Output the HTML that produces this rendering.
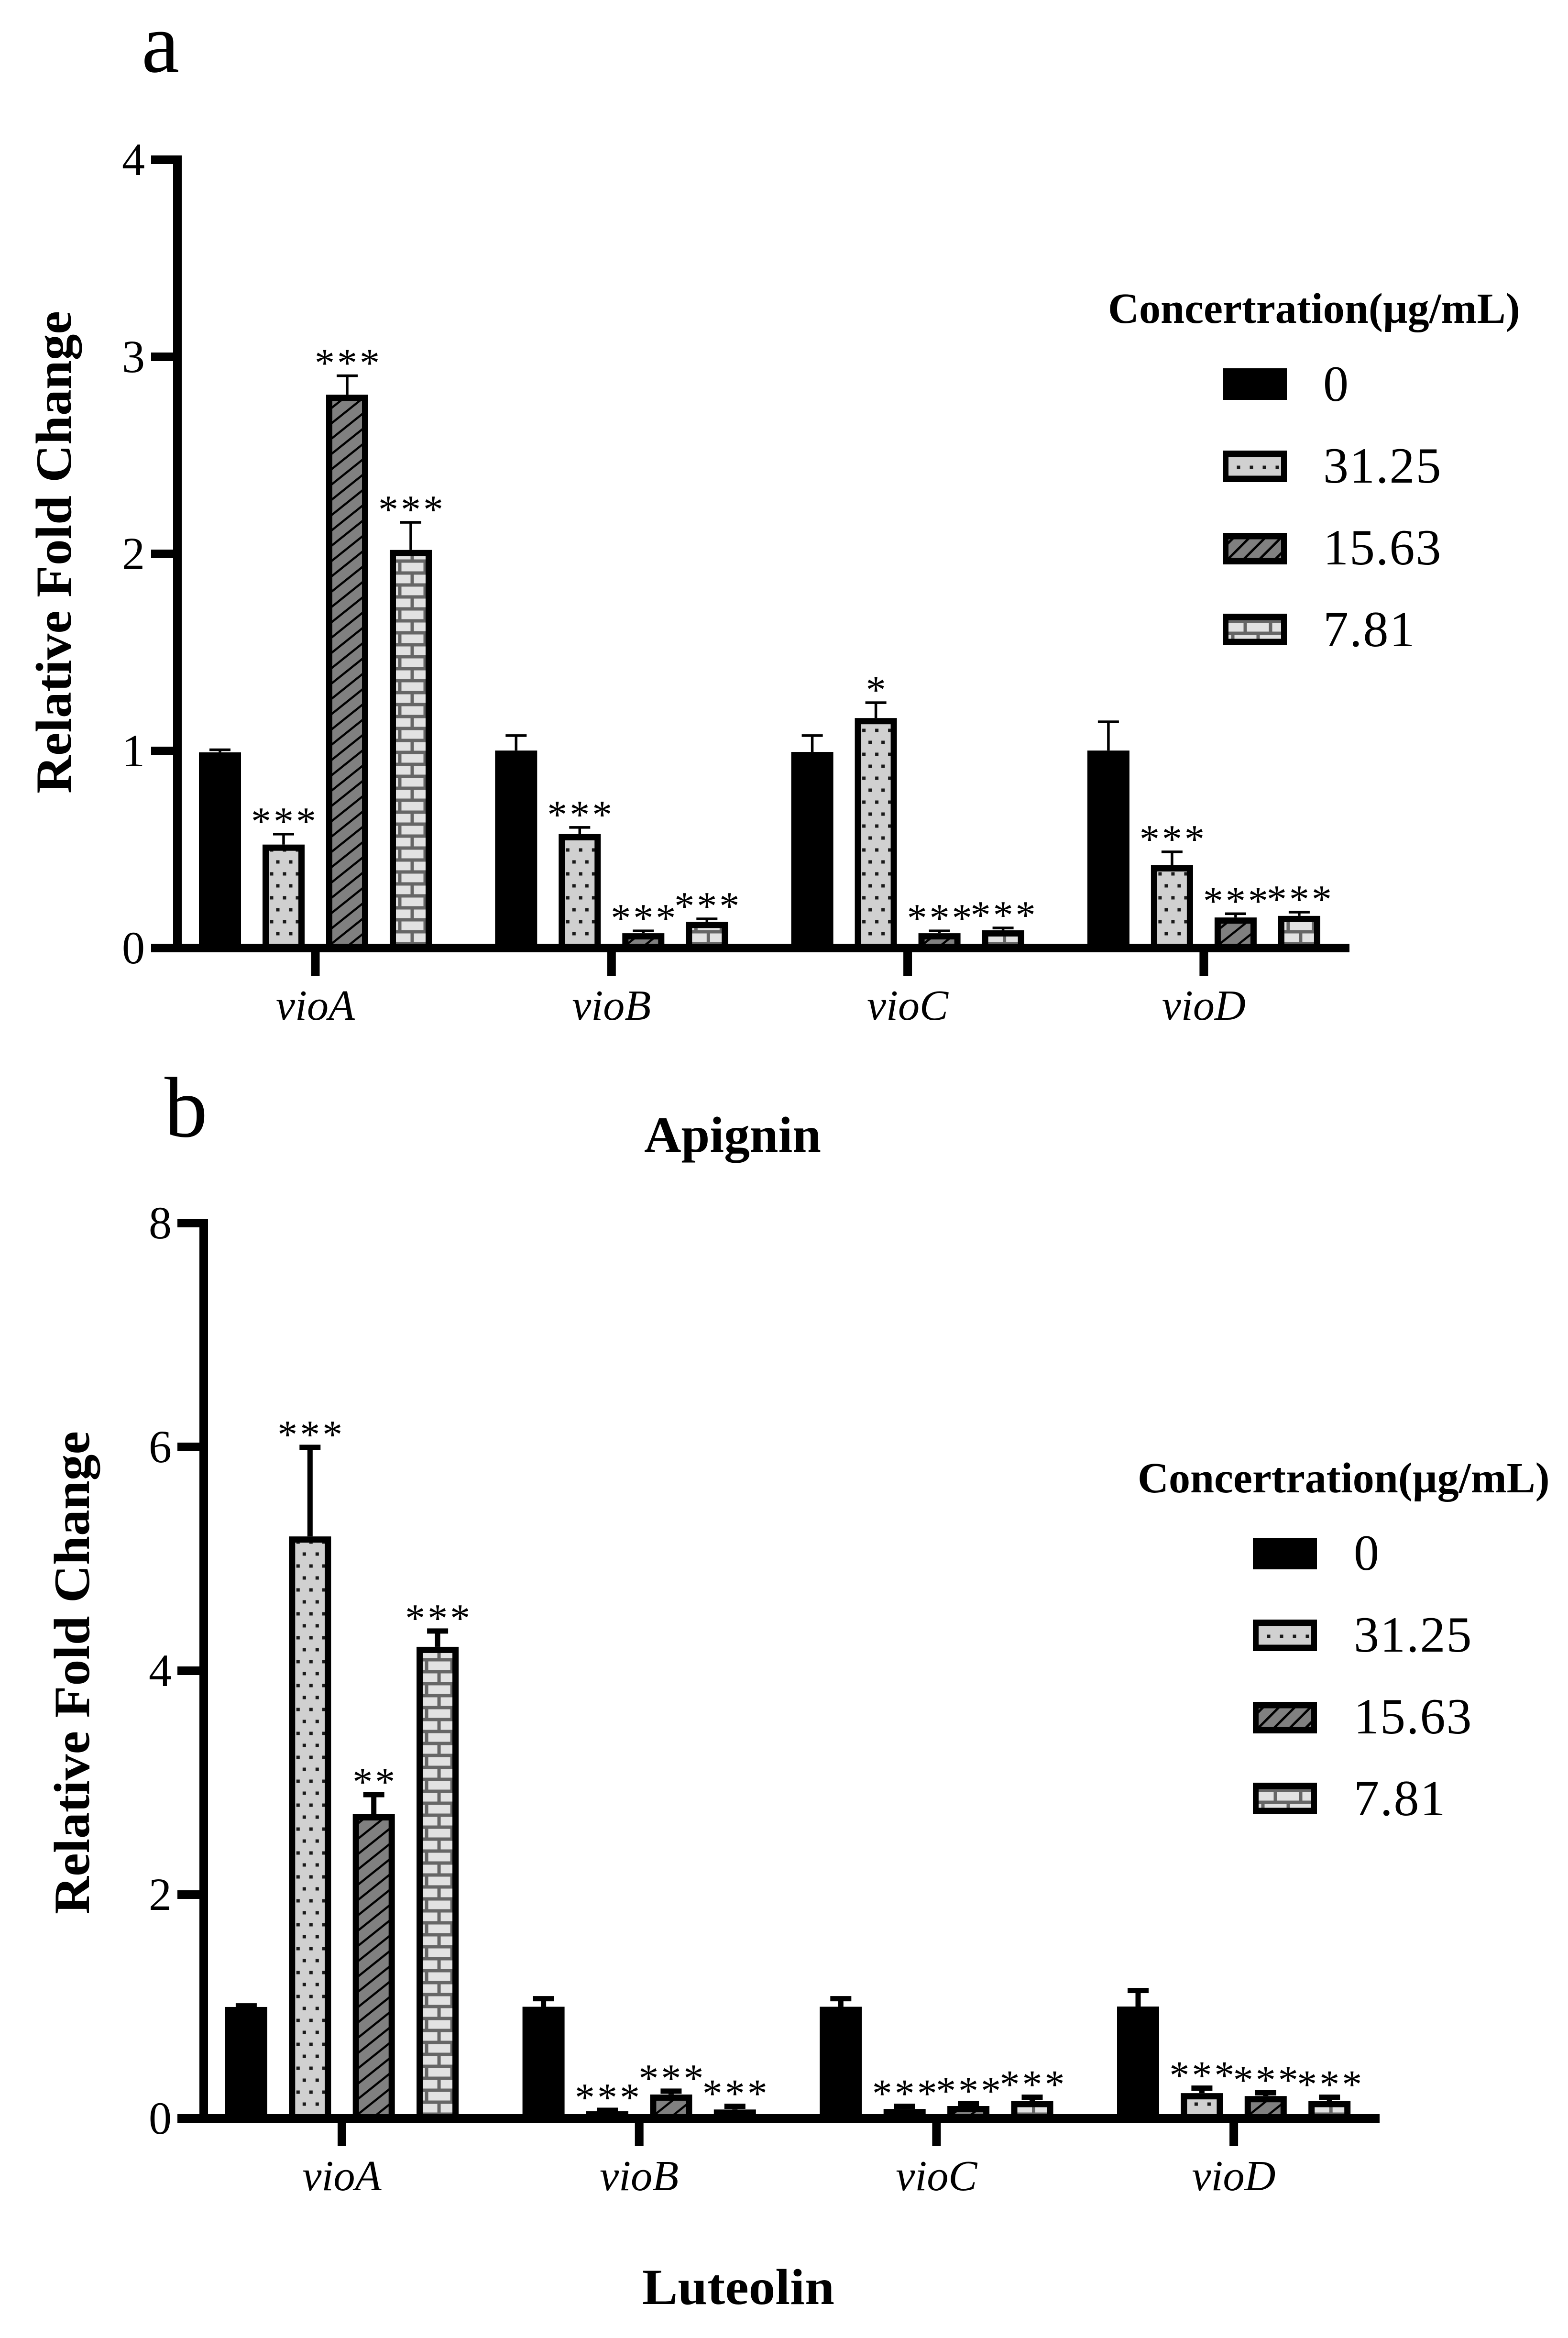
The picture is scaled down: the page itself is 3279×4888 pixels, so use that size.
<!DOCTYPE html>
<html lang="en">
<head>
<meta charset="utf-8">
<title>Relative fold change of vio genes: Apignin and Luteolin</title>
<style>
html,body{margin:0;padding:0;background:#fff;}
svg{display:block;}
text{font-family:"Liberation Serif","Times New Roman",serif;fill:#000;}
.bold{font-weight:700;}
.ital{font-style:italic;}
</style>
</head>
<body>
<svg id="figure" xmlns="http://www.w3.org/2000/svg" width="3279" height="4888" viewBox="0 0 3279 4888">
  <defs>
    <pattern id="pat-dots" patternUnits="userSpaceOnUse" width="27" height="50">
      <rect width="27" height="50" fill="#d0d0d0"/>
      <rect x="1.5" y="16.5" width="7" height="7" fill="#1a1a1a"/>
      <rect x="15.5" y="41.5" width="7" height="7" fill="#1a1a1a"/>
    </pattern>
    <pattern id="pat-hatch" patternUnits="userSpaceOnUse" width="40" height="32">
      <rect width="40" height="32" fill="#808080"/>
      <g stroke="#000" stroke-width="4.5">
        <line x1="-10" y1="40" x2="50" y2="-8"/>
        <line x1="-50" y1="40" x2="10" y2="-8"/>
        <line x1="30" y1="40" x2="90" y2="-8"/>
      </g>
    </pattern>
    <pattern id="pat-hatch-legend" patternUnits="userSpaceOnUse" width="33" height="33">
      <rect width="33" height="33" fill="#808080"/>
      <g stroke="#000" stroke-width="5">
        <line x1="-5" y1="38" x2="38" y2="-5"/>
        <line x1="-38" y1="38" x2="5" y2="-5"/>
        <line x1="28" y1="38" x2="71" y2="-5"/>
      </g>
    </pattern>
    <pattern id="pat-brick" patternUnits="userSpaceOnUse" width="53" height="50">
      <rect width="53" height="50" fill="#e2e2e2"/>
      <rect x="0" y="12.5" width="53" height="7" fill="#666"/>
      <rect x="0" y="37.5" width="53" height="7" fill="#666"/>
      <rect x="43.5" y="12.5" width="7" height="32" fill="#666"/>
      <rect x="17.5" y="37.5" width="7" height="12.5" fill="#666"/>
      <rect x="17.5" y="0" width="7" height="19.5" fill="#666"/>
    </pattern>
  </defs>

  <text x="296" y="150" font-size="178">a</text>
  <text x="344" y="2376" font-size="180">b</text>

  <text class="bold" font-size="106" textLength="1009" lengthAdjust="spacingAndGlyphs" transform="translate(148,1659) rotate(-90)">Relative Fold Change</text>
  <text class="bold" font-size="106" textLength="1010" lengthAdjust="spacingAndGlyphs" transform="translate(186,4002) rotate(-90)">Relative Fold Change</text>

  <text class="bold" font-size="106" x="1347" y="2408" textLength="370" lengthAdjust="spacingAndGlyphs">Apignin</text>
  <text class="bold" font-size="106" x="1343" y="4817" textLength="402" lengthAdjust="spacingAndGlyphs">Luteolin</text>

  <text class="bold" font-size="90" x="2317" y="675">Concertration(µg/mL)</text>
  <text class="bold" font-size="90" x="2379" y="3120">Concertration(µg/mL)</text>

  <g id="panel-a"></g>
  <g id="panel-b"></g>
  <g id="legend-a"></g>
  <g id="legend-b"></g>
</svg>

<script>
// Shared categories and legend labels
const categories = ['vioA', 'vioB', 'vioC', 'vioD'];
const concentrations = ['0', '31.25', '15.63', '7.81'];

// Panel a (Apignin): tick labels
const apiTicks = [0, 1, 2, 3, 4];
// Panel a means per concentration, in category order
const apiMean0 = [0.993, 1.002, 0.995, 1.002];
const apiMean1 = [0.525, 0.578, 1.167, 0.42];
const apiMean2 = [2.808, 0.075, 0.075, 0.155];
const apiMean3 = [2.02, 0.133, 0.09, 0.163];
// Panel a error bar lengths
const apiErr0 = [0.013, 0.076, 0.083, 0.146];
const apiErr1 = [0.053, 0.034, 0.078, 0.068];
const apiErr2 = [0.096, 0.012, 0.012, 0.019];
const apiErr3 = [0.14, 0.015, 0.012, 0.019];
// Panel a significance labels
const apiStars0 = ['', '', '', ''];
const apiStars1 = ['***', '***', '*', '***'];
const apiStars2 = ['***', '***', '***', '***'];
const apiStars3 = ['***', '***', '***', '***'];

// Panel b (Luteolin): tick labels
const lutTicks = [0, 2, 4, 6, 8];
// Panel b means per concentration, in category order
const lutMean0 = [0.996, 0.998, 0.998, 1.0];
const lutMean1 = [5.2, 0.064, 0.085, 0.226];
const lutMean2 = [2.718, 0.214, 0.111, 0.2];
const lutMean3 = [4.214, 0.08, 0.156, 0.156];
// Panel b error bar lengths
const lutErr0 = [0.01, 0.072, 0.072, 0.143];
const lutErr1 = [0.796, 0.009, 0.024, 0.045];
const lutErr2 = [0.175, 0.03, 0.021, 0.029];
const lutErr3 = [0.141, 0.029, 0.034, 0.034];
// Panel b significance labels
const lutStars0 = ['', '', '', ''];
const lutStars1 = ['***', '***', '***', '***'];
const lutStars2 = ['**', '***', '***', '***'];
const lutStars3 = ['***', '***', '***', '***'];

const SVGNS = 'http://www.w3.org/2000/svg';
const fills = ['#000', 'url(#pat-dots)', 'url(#pat-hatch)', 'url(#pat-brick)'];

function make(tag, parent, props) {
  const node = document.createElementNS(SVGNS, tag);
  for (const key in props) node.setAttribute(key, props[key]);
  parent.appendChild(node);
  return node;
}

function drawPanel(root, panel, ticks, means, errs, stars) {
  const yOf = v => panel.axisY - v * panel.unit;
  const catX = i => panel.firstCat + i * panel.catStep;
  const offsets = [-1.5, -0.5, 0.5, 1.5];
  const barW = 88, border = 13, half = 9;

  means.forEach((series, s) => {
    series.forEach((value, c) => {
      const cx = catX(c) + offsets[s] * panel.barStep;
      const left = cx - barW / 2;
      const top = yOf(value);
      const capY = yOf(value + errs[s][c]);

      const stem = make('rect', root, { x: cx - panel.errStroke / 2, y: capY, width: panel.errStroke, height: top - capY, fill: '#000' });
      
      

      const cap = make('rect', root, { x: cx - 22, y: capY - panel.errStroke / 2, width: 44, height: panel.errStroke, fill: '#000' });
      
      

      const bar = make('rect', root, { x: left, y: top, width: barW, height: panel.axisY - top, fill: '#000' });
      
      

      const innerH = panel.axisY - half - (top + border);
      if (s > 0 && innerH > 0) {
        const inner = make('rect', root, {
          x: border,
          y: -(half + innerH),
          width: barW - 2 * border,
          height: innerH,
          fill: fills[s],
          transform: 'translate(' + left + ',' + panel.axisY + ')'
        });
        
        
      }

      if (stars[s][c]) {
        const label = make('text', root, { x: cx + 2.5, y: capY - panel.starGap + 33, 'font-size': 84, 'text-anchor': 'middle', 'letter-spacing': 5 });
        label.textContent = stars[s][c];
        
        
      }
    });
  });

  // Y axis
  const yTop = yOf(ticks[ticks.length - 1]) - half;
  const yAxis = make('rect', root, { x: panel.yAxisX, y: yTop, width: 18, height: panel.axisY + half - yTop, fill: '#000' });
  
  

  ticks.forEach(t => {
    const mark = make('rect', root, { x: panel.xAxisStart, y: yOf(t) - half, width: panel.yAxisX - panel.xAxisStart, height: 18, fill: '#000' });
    
    

    const label = make('text', root, { x: panel.yLabelX, y: yOf(t) + 32, 'font-size': 96, 'text-anchor': 'end' });
    label.textContent = String(t);
    
    
  });

  // X axis
  const xAxis = make('rect', root, { x: panel.xAxisStart, y: panel.axisY - half, width: panel.xAxisEnd - panel.xAxisStart, height: 18, fill: '#000' });
  
  

  categories.forEach((name, c) => {
    const mark = make('rect', root, { x: catX(c) - half, y: panel.axisY, width: 18, height: 58, fill: '#000' });
    
    

    const label = make('text', root, { x: catX(c), y: panel.axisY + 150, 'font-size': 90, 'font-style': 'italic', 'text-anchor': 'middle' });
    label.textContent = name;
    
    
  });
}

function drawLegend(root, left, tops, labelX, baselines) {
  const legendFills = ['#000', 'url(#pat-dots)', 'url(#pat-hatch-legend)', 'url(#pat-brick)'];
  concentrations.forEach((name, i) => {
    const box = make('rect', root, { x: left, y: tops[i], width: 134, height: 66, fill: '#000' });
    
    

    if (i > 0) {
      let ox = left, oy = tops[i];
      if (i === 1) { ox = left + 28; oy = tops[i] + 15; }
      const inner = make('rect', root, {
        x: left + 12 - ox,
        y: tops[i] + 13.5 - oy,
        width: 110,
        height: 39,
        fill: legendFills[i],
        transform: 'translate(' + ox + ',' + oy + ')'
      });
      
      
    }

    const label = make('text', root, { x: labelX, y: baselines[i], 'font-size': 106, 'letter-spacing': 2 });
    label.textContent = name;
    
    
  });
}

drawPanel(
  document.getElementById('panel-a'),
  { axisY: 1982, unit: 412, firstCat: 659.5, catStep: 619.3, barStep: 133, yAxisX: 362, xAxisStart: 316, xAxisEnd: 2822, yLabelX: 303, errStroke: 5.5, starGap: 32 },
  apiTicks,
  [apiMean0, apiMean1, apiMean2, apiMean3],
  [apiErr0, apiErr1, apiErr2, apiErr3],
  [apiStars0, apiStars1, apiStars2, apiStars3]
);

drawPanel(
  document.getElementById('panel-b'),
  { axisY: 4429, unit: 234, firstCat: 715, catStep: 621.7, barStep: 133.4, yAxisX: 417, xAxisStart: 371, xAxisEnd: 2885, yLabelX: 359, errStroke: 11, starGap: 32 },
  lutTicks,
  [lutMean0, lutMean1, lutMean2, lutMean3],
  [lutErr0, lutErr1, lutErr2, lutErr3],
  [lutStars0, lutStars1, lutStars2, lutStars3]
);

drawLegend(document.getElementById('legend-a'), 2557, [770, 942, 1114, 1283], 2767, [838, 1009, 1180, 1351]);
drawLegend(document.getElementById('legend-b'), 2620, [3215, 3386, 3558, 3727], 2831, [3282, 3453, 3624, 3795]);
</script>
</body>
</html>
